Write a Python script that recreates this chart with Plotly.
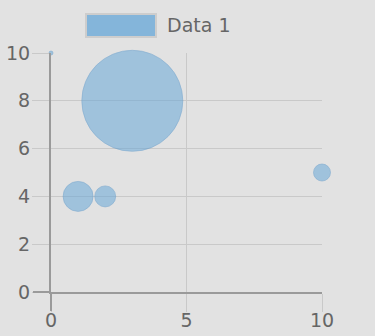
import plotly.graph_objects as go

x_vals = [0, 1, 2, 3, 10]
y_vals = [10, 4, 4, 8, 5]
bubble_sizes = [4, 30, 21, 101, 17]
series_name = "Data 1"
x_ticks = [0, 5, 10]
y_ticks = [0, 2, 4, 6, 8, 10]

bg = "#e2e2e2"
grid = "#c9c9c9"
axis_col = "#9a9a9a"
txt = "#666666"
font_family = "DejaVu Sans"

fig = go.Figure()
fig.add_trace(go.Scatter(
    x=x_vals, y=y_vals, mode="markers", name=series_name,
    marker=dict(size=bubble_sizes, sizemode="diameter", sizeref=1,
                color="rgba(100,165,215,0.75)",
                line=dict(color="rgba(90,150,200,0.6)", width=1)),
    showlegend=False, cliponaxis=False,
))

fig.update_layout(
    width=375, height=336,
    paper_bgcolor=bg, plot_bgcolor=bg,
    margin=dict(l=51, r=53, t=53, b=44, autoexpand=False),
    font=dict(family=font_family, size=19, color=txt),
    xaxis=dict(range=[0, 10], tickvals=x_ticks, showgrid=True, gridcolor=grid,
               gridwidth=1, ticks="outside", ticklen=18, tickcolor=grid,
               showline=True, linecolor=axis_col, linewidth=2, zeroline=False,
               automargin=False, ticklabelstandoff=-8,
               tickfont=dict(size=19, color=txt)),
    yaxis=dict(range=[0, 10], tickvals=y_ticks, showgrid=True, gridcolor=grid,
               gridwidth=1, ticks="outside", ticklen=17, tickcolor=grid,
               showline=True, linecolor=axis_col, linewidth=2, zeroline=False,
               automargin=False, ticklabelstandoff=-2,
               tickfont=dict(size=19, color=txt)),
    xaxis2=dict(overlaying="x", matches="x", range=[0, 10], tickvals=[0],
                ticks="outside", ticklen=18, tickcolor=axis_col, tickwidth=2,
                showticklabels=False, showgrid=False, zeroline=False, side="bottom",
                anchor="y", automargin=False),
    yaxis2=dict(overlaying="y", matches="y", range=[0, 10], tickvals=[0],
                ticks="outside", ticklen=17, tickcolor=axis_col, tickwidth=2,
                showticklabels=False, showgrid=False, zeroline=False, side="left",
                anchor="x", automargin=False),
)
fig.add_trace(go.Scatter(x=[None], y=[None], xaxis="x2", yaxis="y2",
                         showlegend=False, hoverinfo="skip"))

# custom legend
fig.add_shape(type="rect", xref="paper", yref="paper",
              x0=(86 - 51) / 271, x1=(156 - 51) / 271,
              y0=(292 - 37) / 239, y1=(292 - 14) / 239,
              fillcolor="rgba(100,165,215,0.75)",
              line=dict(color="#cdcdcd", width=2))
fig.add_annotation(text=series_name, xref="paper", yref="paper",
                   x=(165 - 51) / 271, y=(292 - 25.5) / 239,
                   xanchor="left", yanchor="middle", showarrow=False,
                   font=dict(size=19, color=txt, family=font_family))

fig.write_html("out.html")
